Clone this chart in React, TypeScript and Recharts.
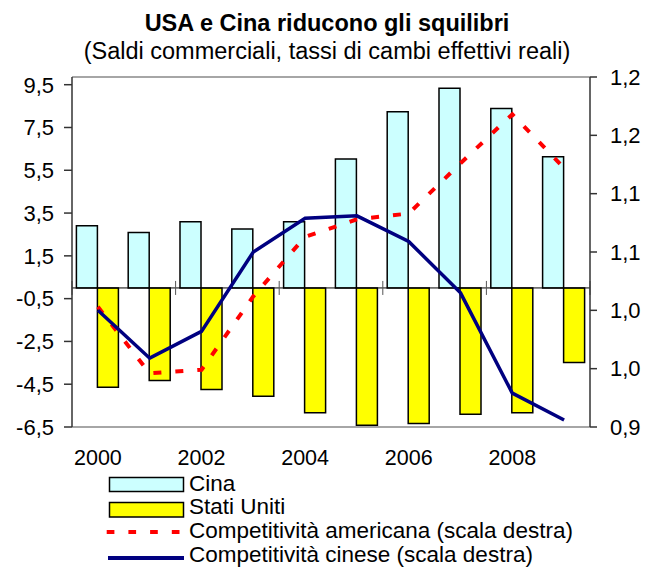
import React from 'react';
import { ComposedChart, Bar, Line, XAxis, YAxis, ReferenceLine } from 'recharts';

const years = ['2000', '2001', '2002', '2003', '2004', '2005', '2006', '2007', '2008', '2009'];
const cina = [2.91, 2.59, 3.09, 2.76, 3.09, 6.03, 8.23, 9.33, 8.39, 6.13];
const statiUniti = [-4.64, -4.33, -4.75, -5.06, -5.83, -6.42, -6.34, -5.9, -5.83, -3.48];
const compAmericana = [1.003, 0.946, 0.949, 1.012, 1.063, 1.078, 1.083, 1.126, 1.168, 1.122];
const compCinese = [1.0, 0.959, 0.982, 1.05, 1.079, 1.081, 1.059, 1.015, 0.929, 0.906];

const leftTicks = [-6.5, -4.5, -2.5, -0.5, 1.5, 3.5, 5.5, 7.5, 9.5];
const leftDomain = [-6.5, 9.86];
const rightTicks = [0.9, 0.95, 1.0, 1.05, 1.1, 1.15, 1.2];
const rightTickLabels = ['0,9', '1,0', '1,0', '1,1', '1,1', '1,2', '1,2'];
const rightDomain = [0.9, 1.2];

const title = 'USA e Cina riducono gli squilibri';
const subtitle = '(Saldi commerciali, tassi di cambi effettivi reali)';

const seriesNames = {
  cina: 'Cina',
  usa: 'Stati Uniti',
  am: 'Competitività americana (scala destra)',
  cn: 'Competitività cinese (scala destra)',
};

const data = years.map((y, i) => ({
  year: y,
  cina: cina[i],
  usa: statiUniti[i],
  am: compAmericana[i],
  cn: compCinese[i],
}));

const FONT = '"Liberation Sans", Arial, sans-serif';

const ZeroAxisShape = (props: any) => {
  const { x1, x2, y1 } = props;
  const n = years.length;
  const marks = [];
  for (let k = 0; k <= n; k += 2) {
    const x = x1 + ((x2 - x1) * k) / n;
    marks.push(
      <line key={k} x1={x} x2={x} y1={y1 - 7} y2={y1 + 7} stroke="#555" strokeWidth={1} />
    );
  }
  return (
    <g>
      <line x1={x1} x2={x2} y1={y1} y2={y1} stroke="#000" strokeWidth={1} />
      {marks}
    </g>
  );
};

const tickStyle = { fontSize: 22, fill: '#000', fontFamily: FONT };
const xTickStyle = { fontSize: 21.5, fill: '#000', fontFamily: FONT };

export default function App() {
  return (
    <div
      style={{
        position: 'absolute',
        left: 0,
        top: 0,
        width: 655,
        height: 567,
        background: '#fff',
        fontFamily: FONT,
      }}
    >
      <ComposedChart
        width={655}
        height={567}
        data={data}
        margin={{ top: 77, right: 0, bottom: 100, left: 1 }}
        barCategoryGap="8.5%"
        barGap={0}
      >
        <XAxis
          dataKey="year"
          interval={1}
          tickLine={false}
          tickSize={0}
          tickMargin={23}
          height={40}
          axisLine={{ stroke: '#888', strokeWidth: 1.5 }}
          tick={xTickStyle}
        />
        <YAxis
          yAxisId="left"
          orientation="left"
          width={71}
          domain={leftDomain}
          ticks={leftTicks}
          interval={0}
          tickSize={8}
          tickMargin={10}
          axisLine={{ stroke: '#333', strokeWidth: 1.5 }}
          tickLine={{ stroke: '#333', strokeWidth: 1.5 }}
          tick={tickStyle}
          tickFormatter={(v: number) => String(v).replace('.', ',')}
        />
        <YAxis
          yAxisId="right"
          orientation="right"
          width={65}
          domain={rightDomain}
          ticks={rightTicks}
          interval={0}
          tickSize={7}
          tickMargin={13}
          axisLine={{ stroke: '#333', strokeWidth: 1.5 }}
          tickLine={{ stroke: '#333', strokeWidth: 1.5 }}
          tick={tickStyle}
          tickFormatter={(v: number) => rightTickLabels[rightTicks.indexOf(v)] ?? String(v)}
        />
        <ReferenceLine yAxisId="left" y={leftDomain[1]} stroke="#888" strokeWidth={1.5} />
        <Bar
          yAxisId="left"
          dataKey="cina"
          name={seriesNames.cina}
          fill="#CCFFFF"
          stroke="#000"
          strokeWidth={1.5}
          isAnimationActive={false}
        />
        <Bar
          yAxisId="left"
          dataKey="usa"
          name={seriesNames.usa}
          fill="#FFFF00"
          stroke="#000"
          strokeWidth={1.5}
          isAnimationActive={false}
        />
        <ReferenceLine yAxisId="left" y={0} shape={ZeroAxisShape} />
        <Line
          yAxisId="right"
          dataKey="am"
          name={seriesNames.am}
          stroke="#FF0000"
          strokeWidth={4}
          strokeDasharray="8 14"
          dot={false}
          activeDot={false}
          type="linear"
          isAnimationActive={false}
        />
        <Line
          yAxisId="right"
          dataKey="cn"
          name={seriesNames.cn}
          stroke="#000080"
          strokeWidth={3.5}
          dot={false}
          activeDot={false}
          type="linear"
          isAnimationActive={false}
        />
      </ComposedChart>
      <svg
        width={655}
        height={567}
        style={{ position: 'absolute', left: 0, top: 0, pointerEvents: 'none' }}
      >
        <text x={327} y={30.5} textAnchor="middle" fontSize={23.5} fontWeight="bold" fontFamily={FONT} fill="#000">
          {title}
        </text>
        <text x={327} y={58.5} textAnchor="middle" fontSize={23.5} fontFamily={FONT} fill="#000">
          {subtitle}
        </text>
        <rect x={109.5} y={477.5} width={74} height={14} fill="#CCFFFF" stroke="#000" strokeWidth={1.5} />
        <text x={189} y={490.5} fontSize={22.5} fontFamily={FONT} fill="#000">{seriesNames.cina}</text>
        <rect x={109.5} y={502.5} width={74} height={14.5} fill="#FFFF00" stroke="#000" strokeWidth={1.5} />
        <text x={189} y={514} fontSize={22.5} fontFamily={FONT} fill="#000">{seriesNames.usa}</text>
        <line x1={106.7} x2={184} y1={532} y2={532} stroke="#FF0000" strokeWidth={4} strokeDasharray="7.7 14" />
        <text x={189} y={538} fontSize={22.5} fontFamily={FONT} fill="#000">{seriesNames.am}</text>
        <line x1={108} x2={184} y1={558} y2={558} stroke="#000080" strokeWidth={4} />
        <text x={189} y={562} fontSize={22.5} fontFamily={FONT} fill="#000">{seriesNames.cn}</text>
      </svg>
    </div>
  );
}
